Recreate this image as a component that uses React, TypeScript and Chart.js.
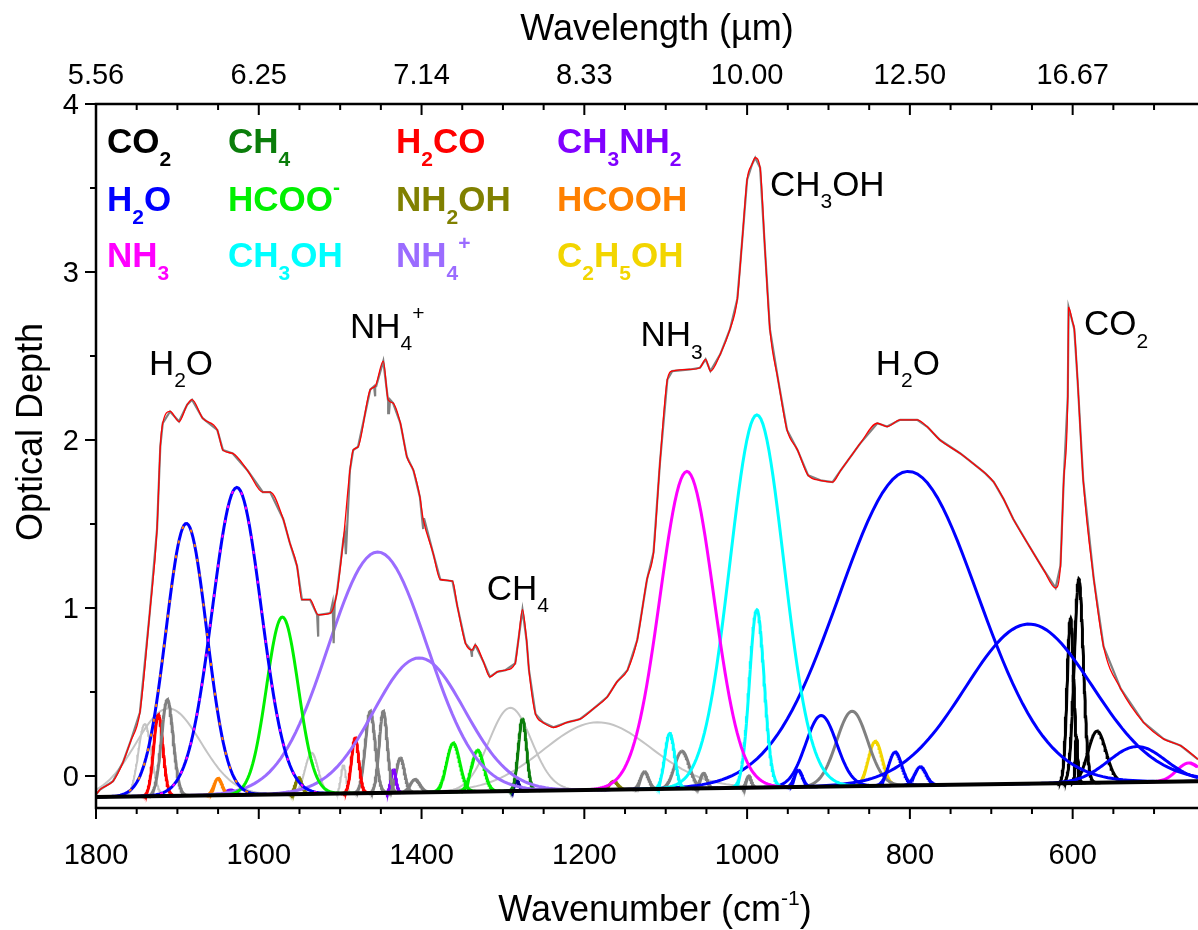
import React, { useEffect, useRef } from "react";
import { Chart, registerables } from "chart.js";
Chart.register(...registerables);

// ---------- axes ----------
const X_MIN = 446;
const X_MAX = 1800;
const Y_MIN = -0.19;
const Y_MAX = 4;
const X_MAJOR_TICKS = [1800, 1600, 1400, 1200, 1000, 800, 600];
const X_MINOR_TICKS = [1750, 1700, 1650, 1550, 1500, 1450, 1350, 1300, 1250, 1150, 1100, 1050, 950, 900, 850, 750, 700, 650, 550, 500];
const Y_MAJOR_TICKS = [0, 1, 2, 3, 4];
const Y_MINOR_TICKS = [0.5, 1.5, 2.5, 3.5];
const TOP_TICK_LABELS = ["5.56", "6.25", "7.14", "8.33", "10.00", "12.50", "16.67"];

// ---------- local continuum baseline ----------
const BASELINE_WN = [1800, 446];
const BASELINE_OD = [-0.124, -0.031];

// ---------- observed spectrum / total fit (red) ----------
const FIT_WN = [1800, 1795, 1779, 1767, 1758, 1746, 1734, 1725, 1721, 1718, 1709, 1698, 1688, 1682, 1669, 1651, 1644, 1632, 1614, 1595, 1586, 1570, 1562, 1553, 1547, 1537, 1527, 1512, 1504, 1496, 1488, 1484, 1478, 1463, 1457, 1447, 1441, 1435, 1426, 1418, 1410, 1402, 1398, 1386, 1377, 1362, 1356, 1346, 1338, 1334, 1324, 1316, 1307, 1297, 1285, 1281, 1276, 1271, 1268, 1260, 1251, 1238, 1221, 1205, 1189, 1172, 1160, 1147, 1135, 1123, 1115, 1107, 1098, 1092, 1070, 1058, 1051, 1045, 1033, 1021, 1012, 1006, 1000, 994, 990, 984, 978, 972, 962, 951, 938, 925, 910, 895, 885, 873, 861, 840, 828, 812, 791, 779, 763, 738, 717, 707, 697, 685, 673, 656, 636, 621, 615, 611, 606, 605, 600, 598, 594, 587, 574, 562, 541, 513, 488, 467, 446];
const FIT_OD = [-0.11, -0.08, -0.03, 0.08, 0.2, 0.38, 0.97, 1.47, 1.96, 2.10, 2.17, 2.11, 2.21, 2.24, 2.13, 2.06, 1.94, 1.92, 1.82, 1.69, 1.69, 1.53, 1.39, 1.25, 1.05, 1.05, 0.96, 0.97, 1.09, 1.41, 1.82, 1.94, 1.96, 2.30, 2.32, 2.47, 2.24, 2.22, 2.10, 1.90, 1.82, 1.66, 1.53, 1.33, 1.17, 1.16, 1.01, 0.79, 0.75, 0.78, 0.68, 0.59, 0.62, 0.63, 0.67, 0.81, 0.99, 0.81, 0.63, 0.37, 0.32, 0.29, 0.32, 0.34, 0.40, 0.47, 0.56, 0.63, 0.81, 1.17, 1.33, 1.87, 2.36, 2.41, 2.42, 2.43, 2.48, 2.41, 2.51, 2.66, 2.84, 3.19, 3.55, 3.64, 3.68, 3.62, 3.13, 2.66, 2.36, 2.06, 1.94, 1.79, 1.76, 1.75, 1.82, 1.90, 1.98, 2.10, 2.08, 2.12, 2.12, 2.08, 2.00, 1.92, 1.84, 1.80, 1.75, 1.65, 1.53, 1.39, 1.23, 1.12, 1.25, 1.76, 2.26, 2.79, 2.70, 2.66, 2.36, 1.76, 1.17, 0.77, 0.52, 0.32, 0.22, 0.18, 0.10];

// narrow dips seen only in the raw (grey) data: [wn, level beside the dip, bottom of the dip]
const DIP_WN = [1527, 1508, 1493, 1457, 1440, 1398, 1338];
const DIP_SIDE_OD = [0.96, 1.03, 1.45, 2.32, 2.24, 1.53, 0.75];
const DIP_OD = [0.83, 0.79, 1.32, 2.26, 2.16, 1.47, 0.71];

// ---------- fitted Gaussian components ----------
const COMP_SPECIES = [
  "H2O", "H2O", "HCOOH", "NH3", "HCOO-", "NH4+", "NH4+", "NH3", "CH3OH", "CH3OH", "CH3OH",
  "H2O", "H2O", "H2O", "H2O", "H2O", "H2O", "H2O", "NH3",
  "CO2", "CO2", "CO2", "CO2",
  "GRAY", "LGRAY", "LGRAY", "H2CO", "HCOOH", "CH3NH2", "NH2OH", "LGRAY", "LGRAY", "H2CO",
  "GRAY", "GRAY", "CH3NH2", "GRAY", "GRAY", "HCOO-", "HCOO-", "LGRAY", "CH4", "NAVY",
  "LGRAY", "NH2OH", "GRAY", "GRAY", "GRAY", "GRAY", "GRAY", "C2H5OH",
];
const COMP_CENTER = [
  1689, 1627, 1689, 1627, 1571, 1454, 1403, 1074, 988, 988, 1095,
  802, 654, 909, 937, 818, 787, 521, 457,
  592.4, 602.6, 570, 595.3,
  1712.3, 1711, 1740, 1723.4, 1650, 1635, 1551, 1535, 1496, 1481.6,
  1463, 1447, 1434.5, 1426, 1408, 1361, 1331, 1291, 1276, 1283,
  1184, 1164, 1126, 1080, 1053.5, 998, 871, 842.4,
];
const COMP_HEIGHT = [
  1.62, 1.83, 1.62, 1.83, 1.055, 1.434, 0.80, 1.887, 2.218, 1.058, 0.33,
  1.869, 0.95, 0.423, 0.10, 0.20, 0.11, 0.212, 0.11,
  1.214, 0.982, 0.307, 0.28,
  0.573, 0.52, 0.43, 0.483, 0.10, 0.03, 0.098, 0.245, 0.17, 0.328,
  0.486, 0.485, 0.138, 0.207, 0.077, 0.29, 0.246, 0.495, 0.429, 0.06,
  0.402, 0.05, 0.104, 0.223, 0.09, 0.07, 0.446, 0.265,
];
const COMP_SIGMA = [
  25, 30, 25, 30, 19.5, 61, 56, 33, 33, 9, 6,
  85, 78, 19, 5, 8, 7, 35, 15,
  5.6, 4.2, 11, 1.5,
  7.2, 40, 8, 5.7, 5, 6, 4, 8, 3, 4.5,
  6, 5, 3, 5, 6, 8, 7.5, 26, 5, 3,
  66, 5, 5, 9, 4, 3, 19, 8.5,
];
// components drawn as dotted overlays on the shared water bands
const COMP_DOTTED = [false, false, true, true];

// ---------- legend & annotations ----------
const LEGEND_LABELS = ["CO2", "CH4", "H2CO", "CH3NH2", "H2O", "HCOO-", "NH2OH", "HCOOH", "NH3", "CH3OH", "NH4+", "C2H5OH"];
const ANNOT_LABELS = ["H2O", "NH4+", "CH4", "NH3", "CH3OH", "H2O", "CO2"];
const ANNOT_WN = [1735, 1488, 1320, 1131, 972, 842, 586];
const ANNOT_OD = [2.39, 2.61, 1.05, 2.56, 3.455, 2.39, 2.625];

// ---------- styles ----------
const COLORS: Record<string, string> = {
  CO2: "#000000",
  CH4: "#0a7d0a",
  H2CO: "#ff0000",
  CH3NH2: "#8000ff",
  H2O: "#0000ff",
  "HCOO-": "#00f000",
  NH2OH: "#808000",
  HCOOH: "#ff8000",
  NH3: "#ff00ff",
  CH3OH: "#00ffff",
  "NH4+": "#9b6cff",
  C2H5OH: "#f2d500",
  GRAY: "#808080",
  LGRAY: "#c4c4c4",
  NAVY: "#000080",
};
const FONT = '"Liberation Sans", Arial, Helvetica, sans-serif';
const LEGEND_COL_X = [107, 228, 396, 557];
const LEGEND_ROW_Y = [153, 211, 267];

function baselineAt(wn: number) {
  const t = (wn - BASELINE_WN[0]) / (BASELINE_WN[1] - BASELINE_WN[0]);
  return BASELINE_OD[0] + t * (BASELINE_OD[1] - BASELINE_OD[0]);
}

function gaussianPoints(c: number, h: number, s: number) {
  const pts: { x: number; y: number }[] = [];
  const lo = Math.max(X_MIN, c - 4.5 * s);
  const hi = Math.min(X_MAX, c + 4.5 * s);
  const n = 120;
  for (let i = 0; i <= n; i++) {
    const x = lo + ((hi - lo) * i) / n;
    pts.push({ x, y: baselineAt(x) + h * Math.exp(-0.5 * ((x - c) / s) ** 2) });
  }
  return pts;
}

function drawFormula(
  ctx: CanvasRenderingContext2D,
  label: string,
  x: number,
  y: number,
  size: number,
  color: string,
  bold: boolean
) {
  const w = bold ? "bold " : "";
  const sub = Math.round(size * 0.6);
  let cx = x;
  ctx.fillStyle = color;
  ctx.textAlign = "left";
  ctx.textBaseline = "alphabetic";
  for (const ch of label) {
    let fs = size;
    let dy = 0;
    if (/[0-9]/.test(ch)) {
      fs = sub;
      dy = size * 0.36;
    } else if (ch === "+" || ch === "-") {
      fs = sub;
      dy = -size * 0.5;
    }
    ctx.font = `${w}${fs}px ${FONT}`;
    ctx.fillText(ch, cx, y + dy);
    cx += ctx.measureText(ch).width;
  }
}

const axesPlugin = {
  id: "customAxes",
  afterDraw(chart: any) {
    const ctx: CanvasRenderingContext2D = chart.ctx;
    const { left, right, top, bottom } = chart.chartArea;
    const xs = chart.scales.x;
    const ys = chart.scales.y;
    ctx.save();

    // annotations
    ANNOT_LABELS.forEach((lab, i) => {
      drawFormula(ctx, lab, xs.getPixelForValue(ANNOT_WN[i]), ys.getPixelForValue(ANNOT_OD[i]), 35, "#000", false);
    });
    // legend
    LEGEND_LABELS.forEach((lab, i) => {
      const col = Math.floor(i % 4);
      const row = Math.floor(i / 4);
      drawFormula(ctx, lab, LEGEND_COL_X[col], LEGEND_ROW_Y[row], 35, COLORS[lab], true);
    });

    // axis lines
    ctx.strokeStyle = "#000";
    ctx.lineWidth = 2.5;
    ctx.beginPath();
    ctx.moveTo(left, top);
    ctx.lineTo(left, bottom);
    ctx.moveTo(left - 1.25, bottom);
    ctx.lineTo(right, bottom);
    ctx.moveTo(left - 1.25, top);
    ctx.lineTo(right, top);
    ctx.stroke();

    // ticks
    ctx.lineWidth = 2;
    ctx.beginPath();
    X_MAJOR_TICKS.forEach((v) => {
      const p = xs.getPixelForValue(v);
      ctx.moveTo(p, bottom);
      ctx.lineTo(p, bottom + 11);
      ctx.moveTo(p, top);
      ctx.lineTo(p, top + 11);
    });
    X_MINOR_TICKS.forEach((v) => {
      const p = xs.getPixelForValue(v);
      ctx.moveTo(p, bottom);
      ctx.lineTo(p, bottom + 6);
      ctx.moveTo(p, top);
      ctx.lineTo(p, top + 6);
    });
    Y_MAJOR_TICKS.forEach((v) => {
      const p = ys.getPixelForValue(v);
      ctx.moveTo(left, p);
      ctx.lineTo(left - 11, p);
    });
    Y_MINOR_TICKS.forEach((v) => {
      const p = ys.getPixelForValue(v);
      ctx.moveTo(left, p);
      ctx.lineTo(left - 6, p);
    });
    ctx.stroke();

    // tick labels
    ctx.fillStyle = "#000";
    ctx.font = `29px ${FONT}`;
    ctx.textBaseline = "alphabetic";
    ctx.textAlign = "center";
    X_MAJOR_TICKS.forEach((v, i) => {
      const p = xs.getPixelForValue(v);
      ctx.fillText(String(v), p, 864);
      ctx.fillText(TOP_TICK_LABELS[i], p, 84);
    });
    ctx.textAlign = "right";
    Y_MAJOR_TICKS.forEach((v) => {
      const p = ys.getPixelForValue(v);
      ctx.fillText(String(v), 79, p + 10);
    });

    // axis titles
    ctx.font = `36px ${FONT}`;
    ctx.textAlign = "center";
    ctx.fillText("Wavelength (\u00b5m)", 657, 40);

    // bottom title with superscript
    const part1 = "Wavenumber (cm";
    const sup = "-1";
    const part3 = ")";
    ctx.font = `36px ${FONT}`;
    const w1 = ctx.measureText(part1).width;
    const w3 = ctx.measureText(part3).width;
    ctx.font = `21px ${FONT}`;
    const w2 = ctx.measureText(sup).width;
    const total = w1 + w2 + w3;
    let bx = 655 - total / 2;
    ctx.textAlign = "left";
    ctx.font = `36px ${FONT}`;
    ctx.fillText(part1, bx, 921);
    bx += w1;
    ctx.font = `21px ${FONT}`;
    ctx.fillText(sup, bx, 905);
    bx += w2;
    ctx.font = `36px ${FONT}`;
    ctx.fillText(part3, bx, 921);

    // y title
    ctx.save();
    ctx.translate(42, 432);
    ctx.rotate(-Math.PI / 2);
    ctx.textAlign = "center";
    ctx.font = `36px ${FONT}`;
    ctx.fillText("Optical Depth", 0, 0);
    ctx.restore();

    ctx.restore();
  },
};

export default function App() {
  const ref = useRef<HTMLCanvasElement | null>(null);
  useEffect(() => {
    if (!ref.current) return;

    const fitPts = FIT_WN.map((x, i) => ({ x, y: FIT_OD[i] })).sort((a, b) => a.x - b.x);
    const dipPts: { x: number; y: number }[] = [];
    DIP_WN.forEach((x, i) => {
      dipPts.push({ x: x + 1.3, y: DIP_SIDE_OD[i] });
      dipPts.push({ x, y: DIP_OD[i] });
      dipPts.push({ x: x - 1.3, y: DIP_SIDE_OD[i] });
    });
    const dataPts = fitPts.concat(dipPts).sort((a, b) => a.x - b.x);

    const datasets: any[] = [];
    datasets.push({
      data: fitPts,
      borderColor: "#ff0000",
      borderWidth: 1.3,
      pointRadius: 0,
      cubicInterpolationMode: "monotone",
      order: 0,
    });
    datasets.push({
      data: dataPts,
      borderColor: "#808080",
      borderWidth: 2.2,
      pointRadius: 0,
      tension: 0,
      order: 1,
    });
    datasets.push({
      data: BASELINE_WN.map((x, i) => ({ x, y: BASELINE_OD[i] })),
      borderColor: "#000000",
      borderWidth: 4,
      pointRadius: 0,
      order: 2,
    });
    COMP_SPECIES.forEach((sp, i) => {
      const dotted = !!COMP_DOTTED[i];
      const light = sp === "LGRAY";
      datasets.push({
        data: gaussianPoints(COMP_CENTER[i], COMP_HEIGHT[i], COMP_SIGMA[i]),
        borderColor: COLORS[sp],
        borderWidth: dotted ? 2 : light ? 2 : 3,
        borderDash: dotted ? [3, 12] : [],
        pointRadius: 0,
        tension: 0,
        order: dotted ? 3 : 4 + (light ? 60 : i),
      });
    });

    const chart = new Chart(ref.current, {
      type: "line",
      data: { datasets },
      options: {
        animation: false,
        responsive: false,
        maintainAspectRatio: false,
        events: [],
        layout: { padding: 0 },
        plugins: {
          legend: { display: false },
          tooltip: { enabled: false },
          title: { display: false },
        },
        scales: {
          x: {
            type: "linear",
            position: "bottom",
            min: X_MIN,
            max: X_MAX,
            reverse: true,
            grid: { display: false },
            border: { display: false },
            ticks: { display: false },
            afterBuildTicks: (s: any) => {
              s.ticks = X_MAJOR_TICKS.map((v) => ({ value: v }));
            },
            afterFit: (s: any) => {
              s.height = 122;
            },
          },
          xTop: {
            type: "linear",
            position: "top",
            min: X_MIN,
            max: X_MAX,
            reverse: true,
            grid: { display: false },
            border: { display: false },
            ticks: { display: false },
            afterFit: (s: any) => {
              s.height = 104;
            },
          },
          y: {
            type: "linear",
            min: Y_MIN,
            max: Y_MAX,
            grid: { display: false },
            border: { display: false },
            ticks: { display: false },
            afterBuildTicks: (s: any) => {
              s.ticks = Y_MAJOR_TICKS.map((v) => ({ value: v }));
            },
            afterFit: (s: any) => {
              s.width = 96;
            },
          },
        },
      } as any,
      plugins: [axesPlugin],
    });
    return () => chart.destroy();
  }, []);

  return (
    <div style={{ position: "absolute", left: 0, top: 0, width: 1198, height: 930, background: "#fff" }}>
      <canvas ref={ref} width={1198} height={930} style={{ display: "block" }} />
    </div>
  );
}
